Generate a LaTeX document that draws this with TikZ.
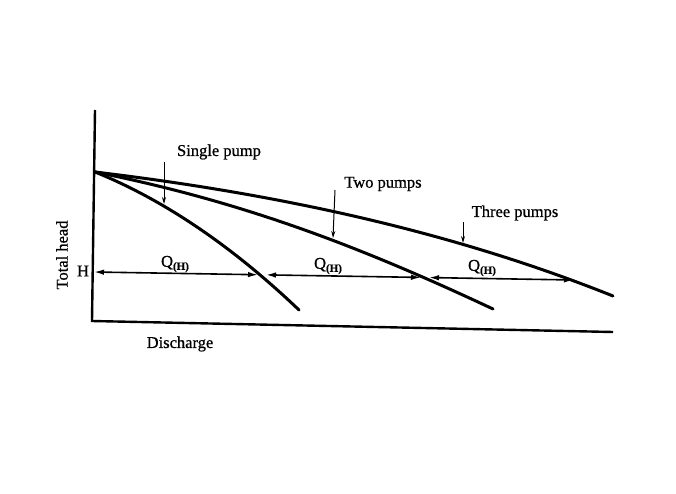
\documentclass[tikz,border=0pt]{standalone}
\usepackage{fontspec}
\setmainfont{Liberation Serif}[FakeBold=0.8]
\usetikzlibrary{arrows.meta}
\begin{document}
\begin{tikzpicture}[x=1pt,y=-1pt,
  lbl/.style={inner sep=0pt,font=\fontsize{16.5}{19}\selectfont},
  curve/.style={line width=3pt,line cap=round},
  axis/.style={line width=2.4pt},
  hline/.style={line width=1.6pt,{Latex[length=10pt,width=5.5pt]}-{Latex[length=10pt,width=5.5pt]}},
  pointer/.style={line width=1pt,-{Stealth[length=7pt,width=4pt]}}]
\useasboundingbox[fill=white] (0,0) rectangle (676,494);
% axes
\coordinate (top) at (95,110);
\coordinate (orig) at (92,321);
\coordinate (xend) at (613,332);
\draw[axis] (top) -- (orig) -- (xend);
% curves
\coordinate (s) at (95,172);
\coordinate (e1) at (299,310);
\coordinate (e2) at (493,309);
\coordinate (e3) at (613,296);
\draw[curve] (s) .. controls (162,199) and (231,245) .. (e1);
\draw[curve] (s) .. controls (245,202) and (363,248) .. (e2);
\draw[curve] (s) .. controls (295,196) and (463,236) .. (e3);
% H line
\coordinate (h0) at (94,272);
\coordinate (h1) at (262,274.8);
\coordinate (h2) at (425,277.5);
\coordinate (h3) at (574,280);
\draw[hline,shorten >=4pt] (h0) -- (h1);
\draw[hline,shorten <=4pt,shorten >=4pt] (h1) -- (h2);
\draw[hline,shorten <=4pt] (h2) -- (h3);
% pointers
\coordinate (p1a) at (164,162);
\coordinate (p1b) at (164,204);
\coordinate (p2a) at (335,190);
\coordinate (p2b) at (333,238);
\coordinate (p3a) at (463,222);
\coordinate (p3b) at (463,243);
\draw[pointer] (p1a) -- (p1b);
\draw[pointer] (p2a) -- (p2b);
\draw[pointer] (p3a) -- (p3b);
% labels
\node[lbl] (single) at (219,152) {Single pump};
\node[lbl] (two) at (383,184) {Two pumps};
\node[lbl] (three) at (515,213) {Three pumps};
\node[lbl,rotate=90] (yl) at (62,255) {Total head};
\node[lbl] (xl) at (180,344) {Discharge};
\node[lbl] (H) at (83,271) {H};
\newcommand{\QH}{Q\raisebox{-3pt}{\fontsize{11}{12}\selectfont\bfseries(H)}}
\node[lbl] (q1) at (175,264) {\QH};
\node[lbl] (q2) at (328,266) {\QH};
\node[lbl] (q3) at (482,268) {\QH};
\end{tikzpicture}
\end{document}
